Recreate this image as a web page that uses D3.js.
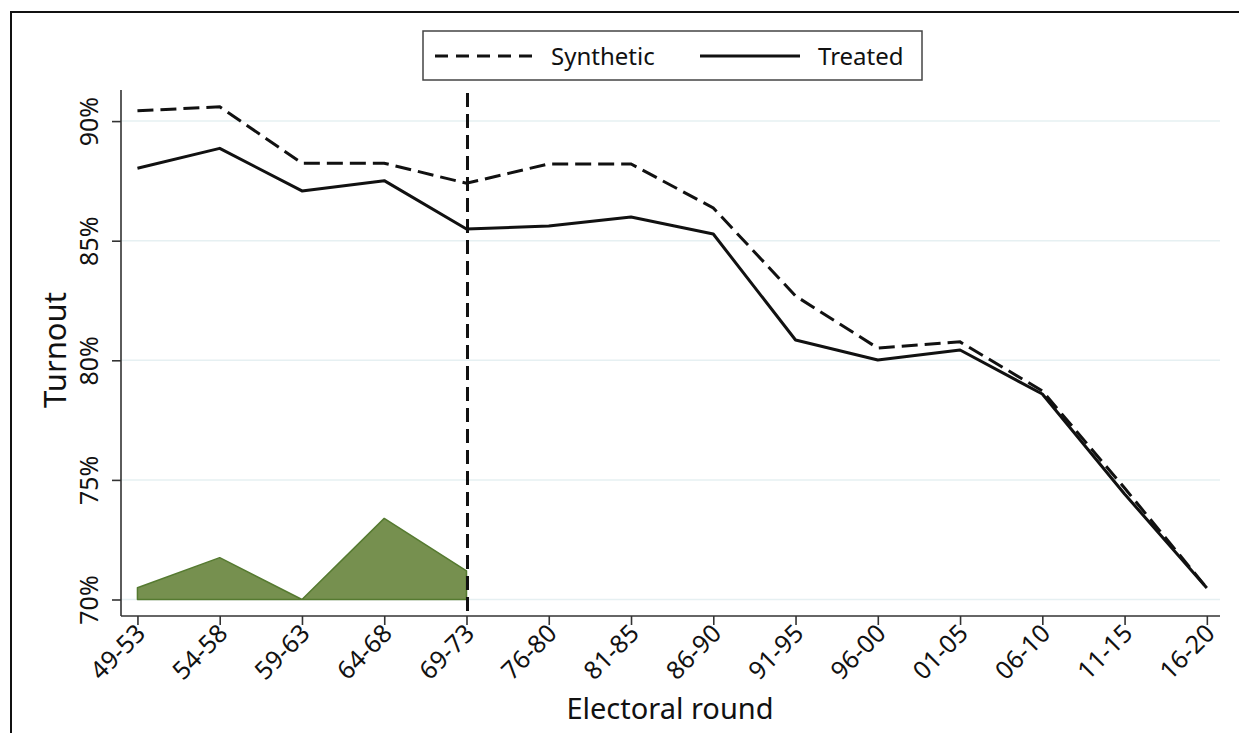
<!DOCTYPE html>
<html>
<head>
<meta charset="utf-8">
<script src="https://cdn.jsdelivr.net/npm/d3@7"></script>
<style>
  body { margin: 0; background: #fff; }
  text { font-family: "Noto Sans", "Open Sans", sans-serif; fill: #111; }
</style>
</head>
<body>
<div id="chart"></div>
<script>
const rounds = ["49-53", "54-58", "59-63", "64-68", "69-73", "76-80", "81-85",
    "86-90", "91-95", "96-00", "01-05", "06-10", "11-15", "16-20"];
const synthetic = [90.43, 90.60, 88.24, 88.24, 87.40, 88.21, 88.21,
    86.37, 82.69, 80.51, 80.77, 78.72, 74.66, 70.48];
const treated = [88.03, 88.86, 87.08, 87.51, 85.49, 85.61, 85.99,
    85.28, 80.85, 80.01, 80.43, 78.59, 74.41, 70.48];
// shaded area in the pre-treatment rounds
const preArea = [70.49, 71.75, 70.0, 73.39, 71.2];
const yTicks = [70, 75, 80, 85, 90];
const treatIndex = 4;

const width = 1239, height = 733;
const plot = { left: 121, right: 1220, top: 90, bottom: 616 };

const svg = d3.select("#chart").append("svg")
    .attr("width", width)
    .attr("height", height);

//outer frame (runs off the page right and bottom)
svg.append("path")
    .attr("d", `M11,${height + 5}V12H${width + 5}`)
    .attr("fill", "none")
    .attr("stroke", "#111")
    .attr("stroke-width", 2);

const x = d3.scaleLinear()
    .domain([-0.2, 13.16])
    .range([plot.left, plot.right]);
const y = d3.scaleLinear()
    .domain([69.31, 91.3])
    .range([plot.bottom, plot.top]);

//gridlines
svg.append("g")
    .selectAll("line")
    .data(yTicks)
    .join("line")
    .attr("x1", plot.left)
    .attr("x2", plot.right)
    .attr("y1", y)
    .attr("y2", y)
    .attr("stroke", "#e6f0f2")
    .attr("stroke-width", 1.5);

//green area
const area = d3.area()
    .x((d, i) => x(i))
    .y0(y(70))
    .y1(d => y(d));
svg.append("path")
    .datum(preArea)
    .attr("d", area)
    .attr("fill", "#76904f")
    .attr("stroke", "#557a30")
    .attr("stroke-width", 1.5)
    .attr("stroke-linejoin", "round");

//y axis
const yAxis = svg.append("g")
    .attr("transform", `translate(${plot.left},0)`)
    .call(d3.axisLeft(y).tickValues(yTicks).tickSize(9)
        .tickFormat(d => d + "%"))
    .call(g => g.select(".domain").attr("d", `M0,${plot.top}V${plot.bottom}`));
yAxis.attr("font-size", null).attr("font-family", null);
yAxis.selectAll("line, path").attr("stroke", "#333").attr("stroke-width", 1.6);
yAxis.selectAll(".tick text")
    .attr("font-size", 25)
    .attr("text-anchor", "middle")
    .attr("x", 0).attr("y", 0).attr("dy", "0.35em")
    .attr("transform", "translate(-32,0) rotate(-90)");

//x axis
const xAxis = svg.append("g")
    .attr("transform", `translate(0,${plot.bottom})`)
    .call(d3.axisBottom(x).tickValues(d3.range(rounds.length)).tickSize(9)
        .tickFormat(i => rounds[i]))
    .call(g => g.select(".domain").attr("d", `M${plot.left},0H${plot.right}`));
xAxis.attr("font-size", null).attr("font-family", null);
xAxis.selectAll("line, path").attr("stroke", "#333").attr("stroke-width", 1.6);
xAxis.selectAll(".tick text")
    .attr("font-size", 25)
    .attr("text-anchor", "end")
    .attr("y", 0).attr("dy", 0)
    .attr("transform", "translate(9,19) rotate(-45)");

//lines
const line = d3.line()
    .x((d, i) => x(i))
    .y(d => y(d));
svg.append("path")
    .datum(synthetic)
    .attr("d", line)
    .attr("fill", "none")
    .attr("stroke", "#111")
    .attr("stroke-width", 3)
    .attr("stroke-dasharray", "16 7");
svg.append("path")
    .datum(treated)
    .attr("d", line)
    .attr("fill", "none")
    .attr("stroke", "#111")
    .attr("stroke-width", 3)
    .attr("stroke-linejoin", "round");

//treatment line
svg.append("line")
    .attr("x1", x(treatIndex) + 1).attr("x2", x(treatIndex) + 1)
    .attr("y1", 93).attr("y2", plot.bottom)
    .attr("stroke", "#111")
    .attr("stroke-width", 3)
    .attr("stroke-dasharray", "14 7");

//axis titles
svg.append("text")
    .attr("transform", `translate(66,350) rotate(-90)`)
    .attr("text-anchor", "middle")
    .attr("font-size", 31)
    .text("Turnout");
svg.append("text")
    .attr("x", 670).attr("y", 719)
    .attr("text-anchor", "middle")
    .attr("font-size", 29)
    .text("Electoral round");

//legend
const legend = svg.append("g");
legend.append("rect")
    .attr("x", 423).attr("y", 31)
    .attr("width", 499).attr("height", 49)
    .attr("fill", "#fff")
    .attr("stroke", "#444")
    .attr("stroke-width", 1.5);
legend.append("line")
    .attr("x1", 435).attr("x2", 535).attr("y1", 56).attr("y2", 56)
    .attr("stroke", "#111").attr("stroke-width", 3)
    .attr("stroke-dasharray", "13 8");
legend.append("text")
    .attr("x", 551).attr("y", 65)
    .attr("font-size", 24)
    .text("Synthetic");
legend.append("line")
    .attr("x1", 700).attr("x2", 800).attr("y1", 56).attr("y2", 56)
    .attr("stroke", "#111").attr("stroke-width", 3);
legend.append("text")
    .attr("x", 818).attr("y", 65)
    .attr("font-size", 24)
    .text("Treated");
</script>
</body>
</html>
